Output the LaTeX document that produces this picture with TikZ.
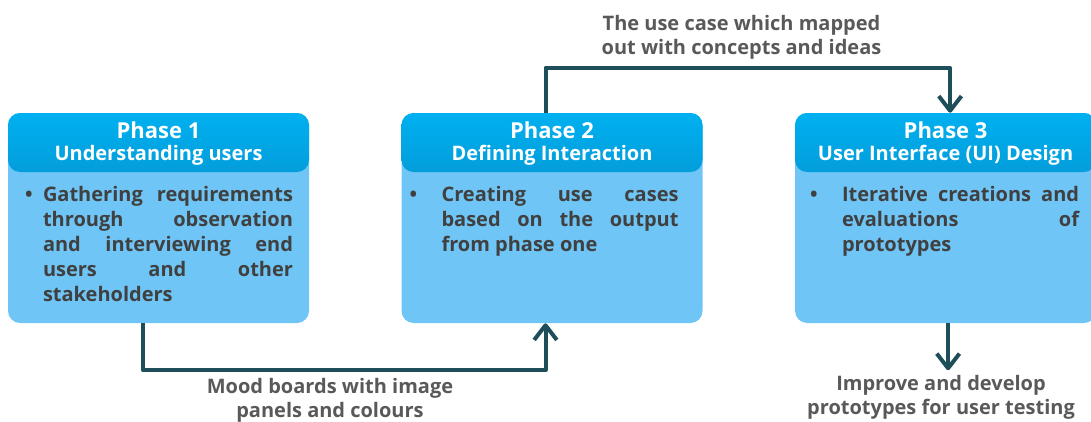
\documentclass[tikz,border=0pt]{standalone}
\usepackage{fontspec}
\setmainfont{Open Sans}
\usetikzlibrary{positioning,arrows.meta}

\definecolor{headtop}{HTML}{00B0F0}
\definecolor{headbot}{HTML}{0A6EA6}
\definecolor{bodyblue}{HTML}{6EC5F6}
\definecolor{flowteal}{HTML}{1E4E5A}
\definecolor{bodytext}{HTML}{404040}
\definecolor{notetext}{HTML}{595959}

\hbadness=10000

\begin{document}
\begin{tikzpicture}[x=0.75pt, y=-0.75pt, node distance=69pt,
        phase/.style={fill=bodyblue, rounded corners=9pt, minimum width=225.75pt, minimum height=157.5pt, inner sep=0pt,
            path picture={\shade[top color=headtop, bottom color=headbot]
                (path picture bounding box.north west) rectangle ([yshift=-44.25pt]path picture bounding box.north east);}},
        phasetitle/.style={anchor=base, inner sep=0pt, text=white, font=\bfseries\fontsize{16.5}{20}\selectfont},
        phasesub/.style={anchor=base, inner sep=0pt, text=white, font=\bfseries\fontsize{15}{18}\selectfont},
        bullets/.style={anchor=north west, inner sep=0pt, align=justify, text=bodytext,
            font=\bfseries\fontsize{15}{18.75}\selectfont},
        dot/.style={anchor=north west, inner sep=0pt, text=bodytext, font=\bfseries\fontsize{15}{18.75}\selectfont},
        note/.style={anchor=north, inner sep=0pt, align=center, text=notetext,
            font=\bfseries\fontsize{15}{18}\selectfont},
        flow/.style={draw=flowteal, line width=3pt, line join=round, -{Straight Barb[length=11pt, width=17pt, line join=round]}}]

    \useasboundingbox (0,0) rectangle (1091,421);

    % the three phases
    \node[phase] (p1) at (158.5,218) {};
    \node[phase, right=of p1] (p2) {};
    \node[phase, right=of p2] (p3) {};

    \node[phasetitle] (t1) at ([yshift=-19.5pt]p1.north) {Phase 1};
    \node[phasesub] (s1) at ([yshift=-36pt]p1.north) {Understanding users};
    \node[phasetitle] (t2) at ([yshift=-19.5pt]p2.north) {Phase 2};
    \node[phasesub] (s2) at ([yshift=-36pt]p2.north) {Defining Interaction};
    \node[phasetitle] (t3) at ([yshift=-19.5pt]p3.north) {Phase 3};
    \node[phasesub] (s3) at ([yshift=-36pt]p3.north) {User Interface (UI) Design};

    \node[dot] (d1) at ([xshift=12.75pt, yshift=-53pt]p1.north west) {\strut\textbullet};
    \node[bullets, text width=187.5pt] (b1) at ([xshift=26.25pt, yshift=-53pt]p1.north west)
        {\strut Gathering requirements\linebreak through observation\linebreak and interviewing end\linebreak
         users and other\linebreak stakeholders};
    \node[dot] (d2) at ([xshift=6pt, yshift=-53pt]p2.north west) {\strut\textbullet};
    \node[bullets, text width=177.75pt] (b2) at ([xshift=30pt, yshift=-53pt]p2.north west)
        {\strut Creating use cases\linebreak based on the output\linebreak from phase one};
    \node[dot] (d3) at ([xshift=11.25pt, yshift=-53pt]p3.north west) {\strut\textbullet};
    \node[bullets, text width=177.75pt] (b3) at ([xshift=35.25pt, yshift=-53pt]p3.north west)
        {\strut Iterative creations and\linebreak evaluations of\linebreak prototypes};

    % what is handed on
    \node[note] (moods) at (330,378) {Mood boards with image\\panels and colours};
    \node[note] (usecase) at (741.5,15) {The use case which mapped\\out with concepts and ideas};
    \node[note] (improve) at (941,375) {Improve and develop\\prototypes for user testing};

    \draw[flow] ([xshift=-11.6pt]p1.south) -- ++(0,47) -| ([xshift=-4.9pt]p2.south);
    \draw[flow] ([xshift=-4.9pt]p2.north) -- ++(0,-45) -| ([xshift=3.4pt]p3.north);
    \draw[flow] ([xshift=1.9pt]p3.south) -- ++(0,47);
\end{tikzpicture}
\end{document}
